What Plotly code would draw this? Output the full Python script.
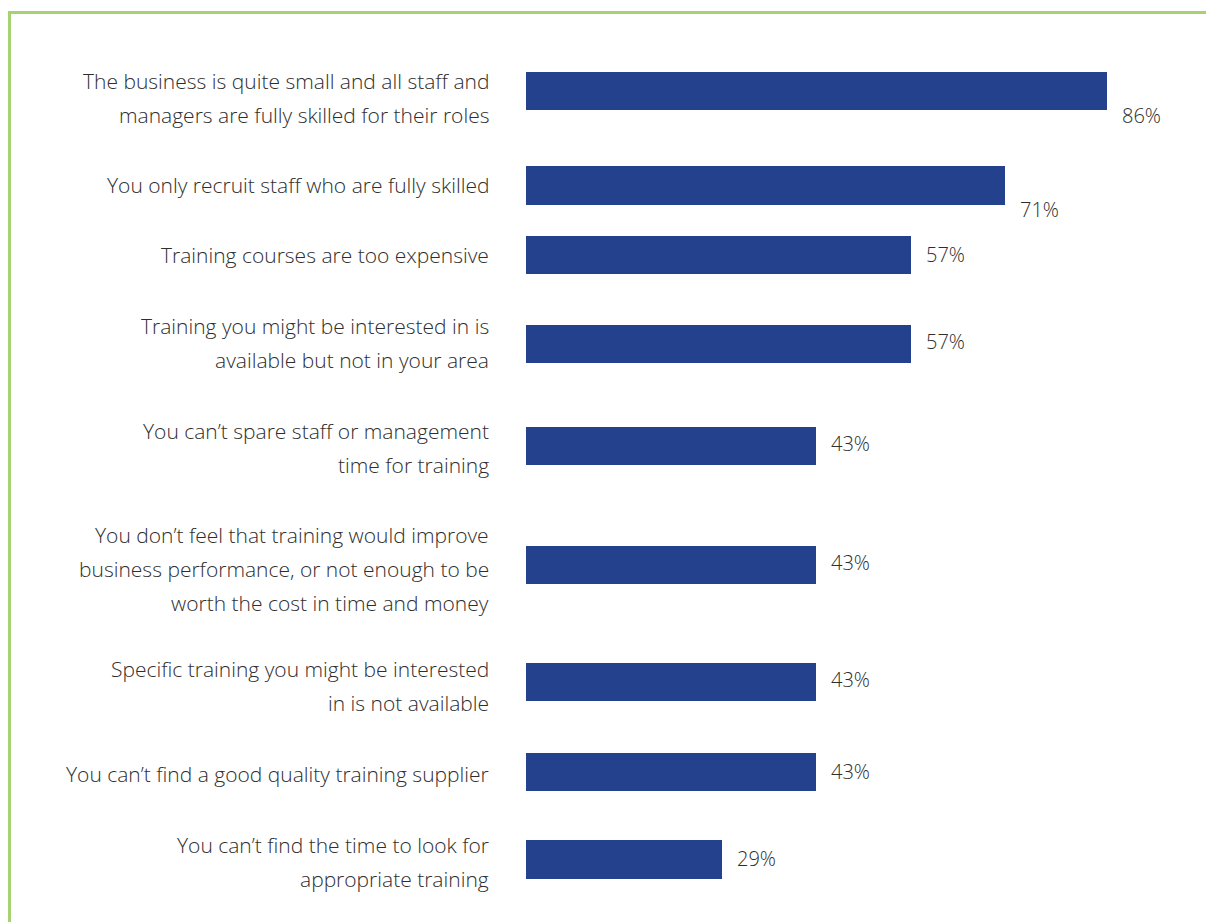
import plotly.graph_objects as go

# Survey data: reasons for not providing training
categories = [
    "The business is quite small and all staff and\nmanagers are fully skilled for their roles",
    "You only recruit staff who are fully skilled",
    "Training courses are too expensive",
    "Training you might be interested in is\navailable but not in your area",
    "You can\u2019t spare staff or management\ntime for training",
    "You don\u2019t feel that training would improve\nbusiness performance, or not enough to be\nworth the cost in time and money",
    "Specific training you might be interested\nin is not available",
    "You can\u2019t find a good quality training supplier",
    "You can\u2019t find the time to look for\nappropriate training",
]
values = [86, 71, 57, 57, 43, 43, 43, 43, 29]

# Layout: vertical row centres (pixel-like units on a reversed axis)
row_centres = [91, 185.5, 255, 344, 446, 565, 682, 772, 859.5]
category_label_dy = [6.5, -0.5, -0.5, -1.5, 2, 3.5, 4, 1.5, 2.5]
value_label_dy = [24, 24, -1, -3, -3, -3, -3, -1, -1]

W, H = 1206, 922
BAR_COLOR = "#24418E"
TEXT_COLOR = "#2e2e2e"
FONT = "Open Sans"
FS = 21
VFS = 20
LINE_GAP = 34

fig = go.Figure()
fig.add_trace(go.Bar(
    x=values,
    y=row_centres,
    orientation="h",
    width=38.5,
    marker=dict(color=BAR_COLOR, line=dict(width=0)),
    hoverinfo="skip",
))

annotations = []
# Category labels, one annotation per line so the line spacing can be set
for label, yc, dy in zip(categories, row_centres, category_label_dy):
    lines = label.split("\n")
    n = len(lines)
    for i, line in enumerate(lines):
        y = yc + dy + (i - (n - 1) / 2) * LINE_GAP
        annotations.append(dict(
            x=491 / W, xref="paper", xanchor="right",
            y=y, yref="y", yanchor="middle",
            text=line, showarrow=False,
            font=dict(family=FONT, size=FS, color=TEXT_COLOR, weight=300),
        ))

# Value labels to the right of each bar
for v, yc, dy in zip(values, row_centres, value_label_dy):
    annotations.append(dict(
        x=v, xref="x", xanchor="left", xshift=13,
        y=yc + dy, yref="y", yanchor="middle",
        text=f"{v}%", showarrow=False,
        font=dict(family=FONT, size=VFS, color=TEXT_COLOR, weight=300),
    ))

# Green frame along the top and left edges
GREEN = "#A6D272"
shapes = [
    dict(type="line", xref="paper", yref="paper",
         x0=8.5 / W, x1=1.0, y0=1 - 12.5 / H, y1=1 - 12.5 / H,
         line=dict(color=GREEN, width=3)),
    dict(type="line", xref="paper", yref="paper",
         x0=9.5 / W, x1=9.5 / W, y0=1 - 11 / H, y1=0,
         line=dict(color=GREEN, width=3)),
]

fig.update_layout(
    width=W, height=H,
    margin=dict(l=0, r=0, t=0, b=0),
    paper_bgcolor="white", plot_bgcolor="white",
    showlegend=False,
    annotations=annotations,
    shapes=shapes,
    xaxis=dict(domain=[526 / W, 1201 / W], range=[0, 100],
               visible=False, fixedrange=True),
    yaxis=dict(range=[H, 0], visible=False, fixedrange=True),
    bargap=0,
)

fig.write_html("out.html", config={"displayModeBar": False})
